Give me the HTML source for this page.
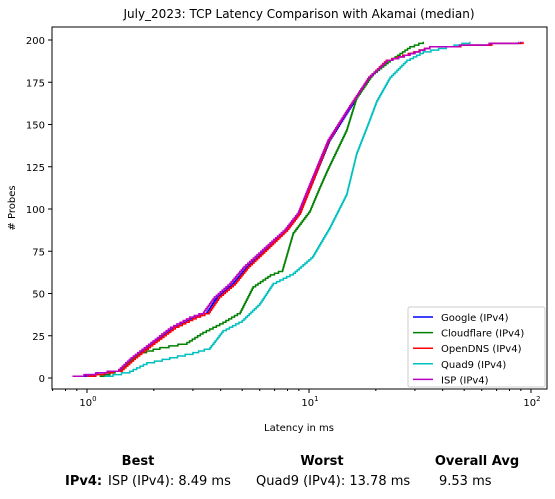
<!DOCTYPE html>
<html><head><meta charset="utf-8"><style>
body{margin:0;background:#fff;width:555px;height:494px;overflow:hidden;font-family:"Liberation Sans","DejaVu Sans",sans-serif}
svg text{font-family:"DejaVu Sans","Liberation Sans",sans-serif}
</style></head><body>
<svg id="c" width="555" height="494"></svg>
<script>
const seriesNames=["Google (IPv4)","Cloudflare (IPv4)","OpenDNS (IPv4)","Quad9 (IPv4)","ISP (IPv4)"];
const seriesColors=["#0000ff","#008000","#ff0000","#00bfbf","#bf00bf"];
const googleCounts=[1,5,12,21,30,36,39,48,56,66,77,88,98,115,141,160,178,188,192,196,199];
const googleLat=[0.88,1.41,1.61,1.98,2.44,3.0,3.47,3.85,4.54,5.26,6.47,7.96,9.1,10.3,12.4,15.3,18.8,22.5,28.5,35,90];
const cloudflareCounts=[1,5,15,18,21,27,33,39,54,61,64,86,99,113,123,147,166,180,188,196,199];
const cloudflareLat=[1.14,1.41,1.73,2.13,2.82,3.33,4.1,4.9,5.6,6.7,7.6,8.5,10.1,11.2,12.1,14.8,16.4,19.4,23.2,28.5,32.7];
const opendnsCounts=[1,5,12,21,30,36,39,48,56,66,77,88,98,115,141,160,178,188,192,196,199];
const opendnsLat=[1.0,1.44,1.65,2.02,2.5,3.1,3.55,3.95,4.65,5.35,6.55,8.0,9.15,10.3,12.3,15.1,18.6,22.3,28,35,92];
const quad9Counts=[1,4,9,12,15,18,28,34,44,56,62,72,89,109,133,153,164,178,188,193,197,199];
const quad9Lat=[1.2,1.56,1.86,2.36,3.0,3.58,4.1,5.0,6.0,6.9,8.5,10.4,12.4,14.8,16.4,18.8,20.2,23.2,27.6,32.7,45,53];
const ispCounts=[1,5,12,21,30,36,39,48,56,66,77,88,98,115,141,160,178,188,192,196,199];
const ispLat=[0.86,1.39,1.58,1.94,2.38,2.9,3.35,3.75,4.4,5.1,6.3,7.8,8.95,10.1,12.2,15.1,18.6,22.5,28.5,35,88];
const allCounts=[googleCounts,cloudflareCounts,opendnsCounts,quad9Counts,ispCounts];
const allLat=[googleLat,cloudflareLat,opendnsLat,quad9Lat,ispLat];
const yTicks=[0,25,50,75,100,125,150,175,200];
const xTicks=[1,10,100];
const X0=52,X1=547,Y0=27,Y1=389;
const xs=v=>87+222*Math.log10(v);
const ys=v=>378-v*1.69;
const NS="http://www.w3.org/2000/svg";
const svg=document.getElementById('c');
function mk(t,a,p){const e=document.createElementNS(NS,t);for(const k in a)e.setAttribute(k,a[k]);(p||svg).appendChild(e);return e;}
function txt(s,a,name){const e=mk('text',a);e.textContent=s;return e;}
allCounts.forEach((cnt,si)=>{
 const lat=allLat[si];let d="";
 for(let i=0;i<cnt.length;i++){
  const x=xs(lat[i]),y=ys(cnt[i]);
  if(i==0)d+="M"+x+","+y;
  else{
   const c0=cnt[i-1],l0=Math.log10(lat[i-1]),l1=Math.log10(lat[i]);
   for(let c=c0+1;c<=cnt[i];c++){
     const xv=xs(Math.pow(10,l0+(l1-l0)*(c-c0)/(cnt[i]-c0)));
     d+="H"+xv+"V"+ys(c);
   }
  }
 }
 const p=mk('path',{d:d,fill:'none',stroke:seriesColors[si],'stroke-width':1.5});
 
 
});
const fr=mk('rect',{x:X0,y:Y0,width:X1-X0,height:Y1-Y0,fill:'none',stroke:'#000','stroke-width':1});

yTicks.forEach(t=>{const y=ys(t);mk('line',{x1:X0-4,x2:X0,y1:y,y2:y,stroke:'#000'});
 txt(String(t),{x:X0-7,y:y+4,'font-size':10,'text-anchor':'end'},'y-tick-label');});
xTicks.forEach((t,i)=>{const x=xs(t);mk('line',{x1:x,x2:x,y1:Y1,y2:Y1+4,stroke:'#000'});
 const e=txt('10',{x:x+1,y:Y1+17,'font-size':10,'text-anchor':'middle'},'x-tick-label');
 const s=mk('tspan',{dy:-5,'font-size':7},e);s.textContent=String(i);});
for(let d=0;d<3;d++)for(let k=2;k<10;k++){const xv=xs(k*Math.pow(10,d-1));if(xv>X0&&xv<X1)mk('line',{x1:xv,x2:xv,y1:Y1,y2:Y1+2,stroke:'#000'});}
txt('July_2023: TCP Latency Comparison with Akamai (median)',{x:299,y:18,'font-size':12,'text-anchor':'middle'},'chart-title');
txt('Latency in ms',{x:299,y:431,'font-size':10,'text-anchor':'middle'},'x-axis-title');
txt('# Probes',{x:15,y:208,'font-size':10,'text-anchor':'middle',transform:'rotate(-90 15 208)'},'y-axis-title');
const lg=mk('rect',{x:408,y:307,width:137,height:80,fill:'#fff',stroke:'#ccc',rx:2});

seriesNames.forEach((n,i)=>{const y=317+i*15.6;mk('line',{x1:413,x2:433,y1:y,y2:y,stroke:seriesColors[i],'stroke-width':1.5});
 txt(n,{x:441,y:y+4,'font-size':10},'legend-entry');});
txt('Best',{x:138,y:465,'font-size':13,'font-weight':'bold','text-anchor':'middle'},'best-header');
txt('Worst',{x:322,y:465,'font-size':13,'font-weight':'bold','text-anchor':'middle'},'worst-header');
txt('Overall Avg',{x:477,y:465,'font-size':13,'font-weight':'bold','text-anchor':'middle'},'avg-header');
txt('IPv4:',{x:65,y:485,'font-size':13,'font-weight':'bold'},'ipv4-row-label');
txt('ISP (IPv4): 8.49 ms',{x:108,y:485,'font-size':13},'best-value');
txt('Quad9 (IPv4): 13.78 ms',{x:256,y:485,'font-size':13},'worst-value');
txt('9.53 ms',{x:439,y:485,'font-size':13},'avg-value');
</script>
</body></html>
